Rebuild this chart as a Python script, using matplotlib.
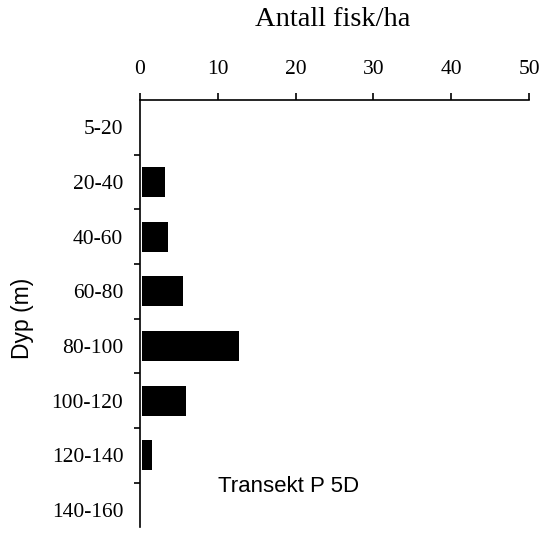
import matplotlib
matplotlib.use("Agg")
import matplotlib.pyplot as plt
import numpy as np

categories = ["5-20", "20-40", "40-60", "60-80", "80-100", "100-120", "120-140", "140-160"]
values = [0.0, 3.0, 3.3, 5.3, 12.5, 5.6, 1.3, 0.0]
xticks = [0, 10, 20, 30, 40, 50]

fig = plt.figure(figsize=(5.51, 5.38), dpi=100)
ax = fig.add_axes([140/551, 1 - 527/538, (529 - 140)/551, (527 - 100)/538])

pos = np.arange(len(categories))
ax.barh(pos, values, height=0.55, color="black", left=0.25)
ax.set_xlim(0, 50)
ax.set_ylim(len(categories) - 0.69, -0.5)

ax.xaxis.tick_top()
ax.xaxis.set_label_position("top")
ax.set_xticks(xticks)
ax.set_xticklabels([str(t) for t in xticks], family="Liberation Serif", fontsize=15.5)
ax.tick_params(axis="x", direction="out", length=5, width=1.2, pad=10)

ax.set_yticks(pos)
ax.set_yticklabels(categories, family="Liberation Serif", fontsize=15.5)
ax.tick_params(axis="y", which="major", length=0, pad=12)
ax.set_yticks(np.arange(0.5, len(categories) - 0.5, 1), minor=True)
ax.tick_params(axis="y", which="minor", direction="out", length=4, width=1.2)

for s in ["right", "bottom"]:
    ax.spines[s].set_visible(False)
for s in ["top", "left"]:
    ax.spines[s].set_linewidth(1.2)

fig.text(333/551, 1 - 20/538, "Antall fisk/ha", family="Liberation Serif",
         fontsize=20.5, ha="center", va="center")
fig.text(22/551, 1 - 318/538, "Dyp (m)", family="Liberation Sans",
         fontsize=16.5, rotation=90, ha="center", va="center")
ax.text(289/551, 1 - 486/538, "Transekt P 5D", family="Liberation Sans",
        fontsize=16, ha="center", va="center", transform=fig.transFigure)

fig.savefig("out.png", dpi=100)
